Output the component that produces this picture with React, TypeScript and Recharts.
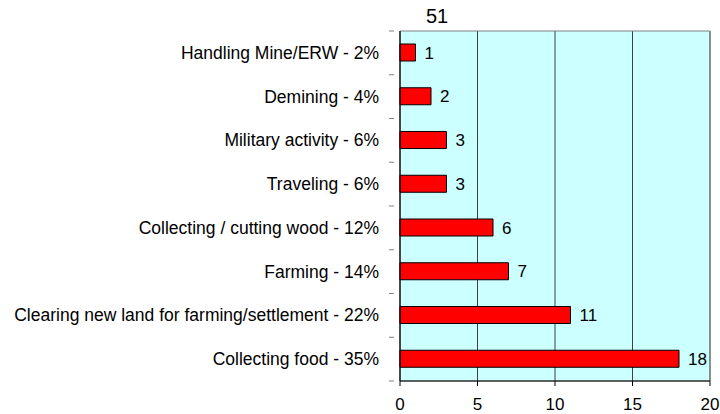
import { Bar, BarChart, CartesianGrid, LabelList, ReferenceArea, XAxis, YAxis } from "recharts"

const categories = [
  "Handling Mine/ERW - 2%",
  "Demining - 4%",
  "Military activity - 6%",
  "Traveling - 6%",
  "Collecting / cutting wood - 12%",
  "Farming - 14%",
  "Clearing new land for farming/settlement - 22%",
  "Collecting food - 35%",
]
const counts = [1, 2, 3, 3, 6, 7, 11, 18]
const xTicks = [0, 5, 10, 15, 20]
const title = "51"

const data = categories.map((name, i) => ({ name, count: counts[i] }))

const BAND = 350 / categories.length

// category labels at the centre, tick marks between the categories
function CategoryTick(props: any) {
  const { x, y, payload, index } = props
  return (
    <g>
      <line x1={x + 10} x2={x + 15} y1={y - BAND / 2} y2={y - BAND / 2} stroke="#808080" />
      {index === categories.length - 1 && (
        <line x1={x + 10} x2={x + 15} y1={y + BAND / 2} y2={y + BAND / 2} stroke="#808080" />
      )}
      <text x={x} y={y} dy={6} textAnchor="end" fontSize={17.5} fill="#000">
        {payload.value}
      </text>
    </g>
  )
}

export default function App() {
  return (
    <div style={{ position: "absolute", left: 0, top: 0, width: 720, height: 414, fontFamily: "'Liberation Sans', Arial, sans-serif" }}>
      <div style={{ position: "absolute", left: 437, top: 16, transform: "translate(-50%, -50%)", fontSize: 20, color: "#000" }}>
        {title}
      </div>
      <BarChart
        width={720}
        height={414}
        data={data}
        layout="vertical"
        margin={{ top: 31, right: 10, bottom: 3, left: 0 }}
        barSize={17}
      >
        <CartesianGrid horizontal={false} stroke="#404040" fill="#CCFFFF" fillOpacity={1} />
        <ReferenceArea x1={0} x2={20} fill="none" stroke="#808080" />
        <XAxis
          type="number"
          domain={[0, 20]}
          ticks={xTicks}
          stroke="#000"
          tick={{ fill: "#000", fontSize: 17 }}
          tickSize={5}
          tickMargin={12}
        />
        <YAxis
          type="category"
          dataKey="name"
          width={400}
          stroke="#000"
          tickLine={false}
          tick={<CategoryTick />}
          tickMargin={15}
        />
        <Bar dataKey="count" fill="#FF0000" stroke="#000" strokeWidth={1} isAnimationActive={false}>
          <LabelList dataKey="count" position="right" offset={9} fill="#000" fontSize={17} />
        </Bar>
      </BarChart>
    </div>
  )
}
